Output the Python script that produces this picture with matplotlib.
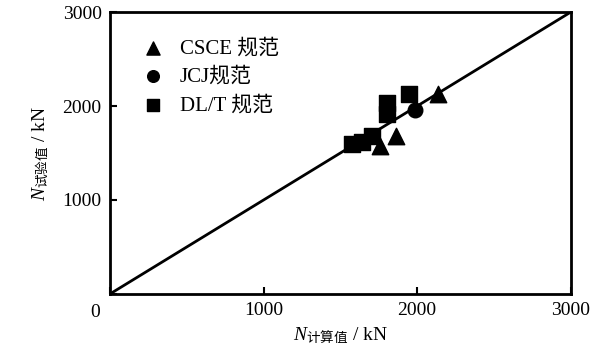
import matplotlib
matplotlib.use('Agg')
import matplotlib.pyplot as plt

plt.rcParams['font.family'] = ['Liberation Serif', 'Noto Sans CJK SC']
plt.rcParams['mathtext.fontset'] = 'custom'
plt.rcParams['mathtext.rm'] = 'Noto Sans CJK SC'
plt.rcParams['mathtext.it'] = 'Liberation Serif:italic'

# 计算值 / 试验值 (kN)
csce_x = [1757, 1861, 2134]
csce_y = [1574, 1681, 2128]
jcj_x = [1984]
jcj_y = [1957]
dlt_x = [1574, 1640, 1705, 1802, 1802, 1945]
dlt_y = [1596, 1617, 1681, 2032, 1915, 2128]

ticks = [0, 1000, 2000, 3000]
tick_labels = ['', '1000', '2000', '3000']

fig = plt.figure(figsize=(6, 3.55), dpi=100)
ax = fig.add_axes([0.1833, 0.172, 0.768, 0.794])

ax.plot([0, 3000], [0, 3000], color='black', lw=2)
ax.scatter(csce_x, csce_y, marker='^', s=140, color='black', label='CSCE 规范')
ax.scatter(jcj_x, jcj_y, marker='o', s=110, color='black', label='JCJ规范')
ax.scatter(dlt_x, dlt_y, marker='s', s=130, color='black', label='DL/T 规范')

ax.set_xlim(0, 3000)
ax.set_ylim(0, 3000)
ax.set_xticks(ticks)
ax.set_xticklabels(tick_labels)
ax.set_yticks(ticks)
ax.set_yticklabels(tick_labels)
ax.tick_params(direction='in', length=5, width=1.5, labelsize=14, pad=6)
for s in ax.spines.values():
    s.set_linewidth(2)
ax.text(-0.033, -0.067, '0', transform=ax.transAxes, fontsize=14, ha='center', va='center')

ax.set_xlabel(r'$N_{\mathrm{计算值}}$ / kN', fontsize=14, labelpad=4)
ax.set_ylabel(r'$N_{\mathrm{试验值}}$ / kN', fontsize=14, labelpad=8)

ax.legend(loc='upper left', bbox_to_anchor=(0.03, 0.935), frameon=False, fontsize=15,
          handletextpad=0.3, labelspacing=0.42, markerscale=0.8, borderaxespad=0)

fig.savefig('out.png', dpi=100)
